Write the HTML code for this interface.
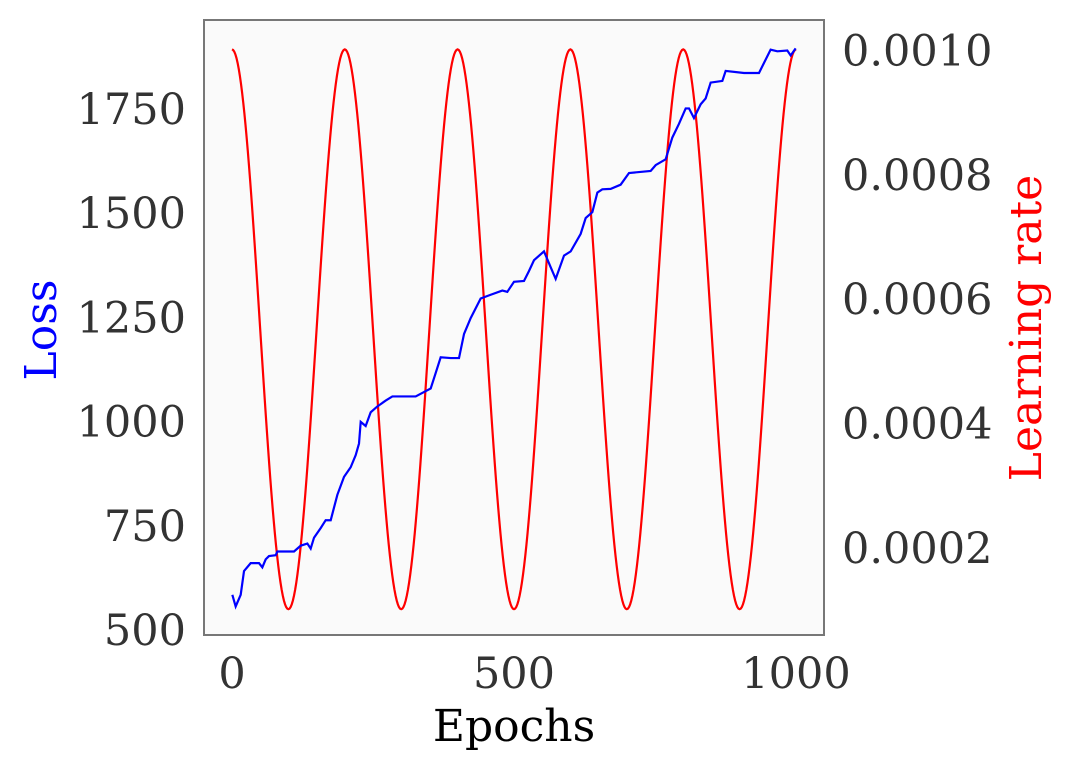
<!DOCTYPE html>
<html><head><meta charset="utf-8"><style>
html,body{margin:0;padding:0;background:#fff;}
svg{display:block;font-family:"DejaVu Serif","Liberation Serif",serif;}
</style></head><body>
<svg id="chart" width="1071" height="770" viewBox="0 0 1071 770" xmlns="http://www.w3.org/2000/svg">
<rect x="204" y="20" width="620" height="615" fill="#fafafa"/>
<g id="lr-layer"></g>
<g id="loss-layer"></g>
<rect x="204" y="20" width="620" height="615" fill="none" stroke="#777" stroke-width="2"/>
<g id="ticks"></g>
<text transform="translate(56,330) rotate(-90)" text-anchor="middle" font-size="44" fill="#0000ff">Loss</text>
<text transform="translate(1041,328) rotate(-90)" text-anchor="middle" font-size="44" fill="#ff0000">Learning rate</text>
<text x="514" y="741" text-anchor="middle" font-size="44" fill="#000">Epochs</text>
</svg>
<script>
const epochs = [0.6,6.5,15.4,21.3,33.1,47.9,53.8,59.7,65.6,77.5,80.4,110,121.8,133.6,139.5,145.4,157.2,166.1,175,186.8,198.6,210.4,219.3,225.2,228.2,237,245.9,257.7,272.5,284.3,325.7,352.3,361.1,370,387.7,402.5,411.4,423.2,440.9,458.7,479.3,488.2,500,517.7,526.6,535.5,553.2,565,573.9,588.7,600.5,618.2,627.1,638.9,647.8,656.6,671.4,689.1,703.9,742.3,751.2,768.9,780.7,792.5,804.4,810.3,819.1,831,839.8,848.7,869.4,875.3,907.8,934.4,943.2,955,966.9,984.6,990.5,999.4];
const lossValues = [582,554,582,639,658,658,648,667,675,677,686,686,700,705,693,719,742,761,761,822,865,888,917,945,997,987,1020,1034,1048,1058,1058,1077,1114,1152,1150,1150,1208,1246,1293,1302,1312,1309,1333,1335,1359,1385,1406,1368,1340,1396,1406,1448,1486,1500,1547,1555,1556,1566,1594,1599,1613,1627,1679,1712,1749,1749,1726,1759,1773,1811,1815,1839,1834,1834,1858,1890,1886,1888,1876,1893];
const lrMax = 0.001, lrMin = 0.0001, lrPeriod = 200, nEpochs = 1000;
const lrEpochs = [];
const lrValues = [];
for (let e = 0; e <= nEpochs; e += 2) { lrEpochs.push(e); lrValues.push(lrMin + (lrMax - lrMin) * 0.5 * (1 + Math.cos(2 * Math.PI * e / lrPeriod))); }
const xTicks = [0, 500, 1000];
const lossTicks = [500, 750, 1000, 1250, 1500, 1750];
const lrTicks = [0.0002, 0.0004, 0.0006, 0.0008, 0.0010];
const lrTickLabels = ["0.0002","0.0004","0.0006","0.0008","0.0010"];

const NS = "http://www.w3.org/2000/svg";
function xS(e){ return 232 + e * 0.564; }
function yLoss(v){ return 629 - (v - 500) / 250 * 104.2; }
function yLr(v){ return 547 - (v - 0.0002) / 0.0002 * 124.4; }

const lr = document.createElementNS(NS, "polyline");
lr.setAttribute("points", lrEpochs.map((e,i)=>xS(e).toFixed(2)+","+yLr(lrValues[i]).toFixed(2)).join(" "));
lr.setAttribute("fill","none"); lr.setAttribute("stroke","#ff0000"); lr.setAttribute("stroke-width","2.2");


document.getElementById("lr-layer").appendChild(lr);

const loss = document.createElementNS(NS, "polyline");
loss.setAttribute("points", epochs.map((e,i)=>xS(e).toFixed(2)+","+yLoss(lossValues[i]).toFixed(2)).join(" "));
loss.setAttribute("fill","none"); loss.setAttribute("stroke","#0000ff"); loss.setAttribute("stroke-width","2.2");


document.getElementById("loss-layer").appendChild(loss);

const tg = document.getElementById("ticks");
function addText(x,y,txt,anchor,name){
  const t = document.createElementNS(NS,"text");
  t.setAttribute("x",x); t.setAttribute("y",y); t.setAttribute("text-anchor",anchor);
  t.setAttribute("font-size","43"); t.setAttribute("fill","#333"); t.textContent = txt;
  
  
  tg.appendChild(t);
}
xTicks.forEach(v=>addText(xS(v), 688, String(v), "middle", "x-tick-label"));
lossTicks.forEach(v=>addText(186, yLoss(v)+16, String(v), "end", "loss-tick-label"));
lrTicks.forEach((v,i)=>addText(842, yLr(v)+16, lrTickLabels[i], "start", "lr-tick-label"));
</script>
</body></html>
